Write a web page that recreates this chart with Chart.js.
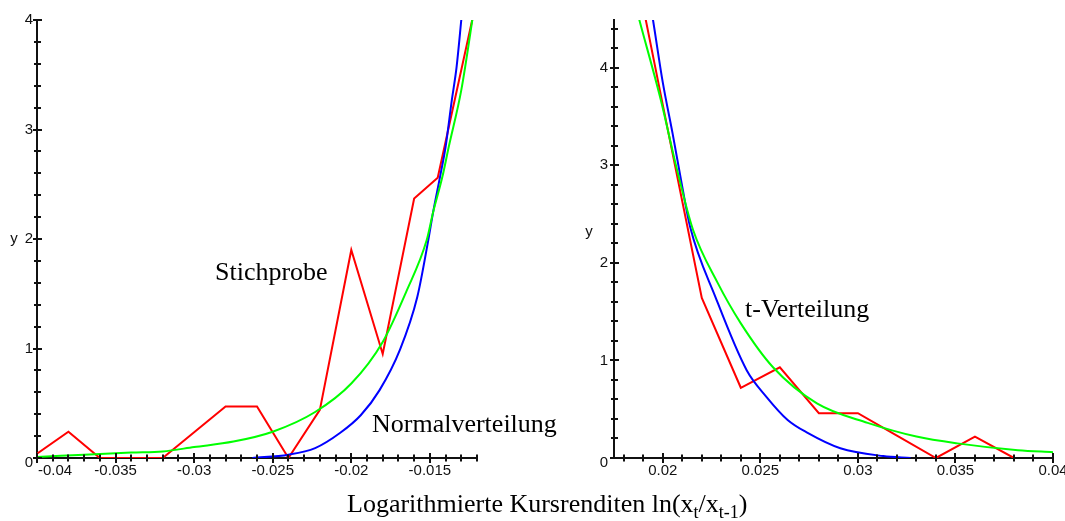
<!DOCTYPE html>
<html>
<head>
<meta charset="utf-8">
<script src="https://cdn.jsdelivr.net/npm/chart.js@4.4.0/dist/chart.umd.min.js"></script>
<style>
  body { margin: 0; background: #fff; }
  #wrap { position: relative; width: 1065px; height: 521px; overflow: hidden; }
  .layer { position: absolute; left: 0; top: 0; width: 1065px; height: 521px; }
  .note {
    position: absolute; white-space: nowrap; color: #000;
    font-family: "Liberation Serif", "Times New Roman", serif;
    font-size: 26px; line-height: 26px;
  }
  .note sub { font-size: 18px; line-height: 0; vertical-align: -6px; }
</style>
</head>
<body>
<div id="wrap">
  <div class="layer"><canvas id="leftChart"></canvas></div>
  <div class="layer"><canvas id="rightChart"></canvas></div>
  <div class="note" style="left:215px;top:259px">Stichprobe</div>
  <div class="note" style="left:372px;top:411px">Normalverteilung</div>
  <div class="note" style="left:745px;top:296px">t-Verteilung</div>
  <div class="note" style="left:347px;top:491px">Logarithmierte Kursrenditen ln(x<sub>t</sub>/x<sub>t-1</sub>)</div>
</div>
<script>
// left tail (negative returns)
const leftSampleX = [-0.040, -0.038, -0.036, -0.034, -0.032, -0.030, -0.028, -0.026, -0.024, -0.022, -0.020, -0.018, -0.016, -0.0145, -0.012];
const leftSampleY = [0.04, 0.24, 0, 0, 0, 0.235, 0.47, 0.47, 0, 0.44, 1.90, 0.95, 2.37, 2.56, 4.2];

const leftNormalX = [-0.0263, -0.024, -0.0223, -0.0207, -0.0194, -0.0182, -0.0169, -0.0158, -0.0151, -0.0148, -0.01435, -0.0140, -0.0136, -0.0133, -0.0130, -0.0128];
const leftNormalY = [0.0, 0.03, 0.09, 0.23, 0.39, 0.62, 0.99, 1.47, 1.99, 2.24, 2.57, 2.84, 3.27, 3.57, 4.0, 4.3];

const leftTX = [-0.040, -0.037, -0.034, -0.032, -0.030, -0.0275, -0.025, -0.0223, -0.020, -0.018, -0.0165, -0.0152, -0.0148, -0.0142, -0.0138, -0.0130, -0.0123, -0.012];
const leftTY = [0.01, 0.03, 0.05, 0.06, 0.10, 0.15, 0.24, 0.42, 0.68, 1.06, 1.52, 1.99, 2.24, 2.57, 2.84, 3.36, 4.0, 4.3];

// right tail (positive returns)
const rightSampleX = [0.018, 0.020, 0.022, 0.024, 0.026, 0.028, 0.030, 0.032, 0.034, 0.036, 0.038];
const rightSampleY = [5.62, 3.62, 1.64, 0.72, 0.93, 0.46, 0.46, 0.23, 0, 0.22, 0];

const rightNormalX = [0.0190, 0.0195, 0.0200, 0.0205, 0.0210, 0.0214, 0.0227, 0.0243, 0.0253, 0.0264, 0.0274, 0.0291, 0.0313, 0.0327];
const rightNormalY = [5.1, 4.49, 3.85, 3.33, 2.78, 2.37, 1.65, 0.90, 0.63, 0.39, 0.26, 0.10, 0.02, 0];

const rightTX = [0.0180, 0.0188, 0.0199, 0.0207, 0.02155, 0.0228, 0.0240, 0.02565, 0.0279, 0.0305, 0.0330, 0.0351, 0.0382, 0.0400];
const rightTY = [5.1, 4.49, 3.67, 2.98, 2.34, 1.80, 1.38, 0.93, 0.56, 0.36, 0.22, 0.15, 0.08, 0.06];

// tick labels
const leftXLabels = ['-0.04', '-0.035', '-0.03', '-0.025', '-0.02', '-0.015'];
const rightXLabels = ['0.02', '0.025', '0.03', '0.035', '0.04'];
const leftYLabels = ['0', '1', '2', '3', '4'];
const rightYLabels = ['0', '1', '2', '3', '4'];

const pts = (xs, ys) => xs.map((x, i) => ({ x: x, y: ys[i] }));

function steps(from, to, step) {
  const out = [];
  const n = Math.round((to - from) / step);
  for (let k = 0; k <= n; k++) out.push(from + k * step);
  return out;
}

// maple style axis: ticks crossing the axis line, labels only on the majors
const axisTicks = {
  id: 'axisTicks',
  afterDraw(chart, args, o) {
    const { ctx, chartArea: a, scales: { x, y } } = chart;
    ctx.save();
    ctx.strokeStyle = '#111';
    ctx.lineWidth = 2;
    ctx.beginPath();
    o.xMinor.forEach(v => {
      const px = Math.round(x.getPixelForValue(v));
      ctx.moveTo(px, a.bottom - 3.5); ctx.lineTo(px, a.bottom + 3.5);
    });
    o.xLabels.forEach(t => {
      const px = Math.round(x.getPixelForValue(parseFloat(t)));
      ctx.moveTo(px, a.bottom - 5); ctx.lineTo(px, a.bottom + 5);
    });
    o.yMinor.forEach(v => {
      const py = Math.round(y.getPixelForValue(v));
      ctx.moveTo(a.left - 3, py); ctx.lineTo(a.left + 4, py);
    });
    o.yLabels.forEach(t => {
      const py = Math.round(y.getPixelForValue(parseFloat(t)));
      ctx.moveTo(a.left - 4, py); ctx.lineTo(a.left + 5, py);
    });
    ctx.stroke();

    ctx.fillStyle = '#111';
    ctx.font = '15px "Liberation Sans", Arial, sans-serif';
    ctx.textBaseline = 'middle';
    o.xLabels.forEach(t => {
      const px = x.getPixelForValue(parseFloat(t));
      if (Math.abs(px - a.left) < 2) {
        ctx.textAlign = 'left';
        ctx.fillText(t, px + 1, a.bottom + 13);
      } else {
        ctx.textAlign = 'center';
        ctx.fillText(t, px, a.bottom + 13);
      }
    });
    ctx.textAlign = 'right';
    o.yLabels.forEach(t => {
      const py = y.getPixelForValue(parseFloat(t));
      ctx.fillText(t, a.left - o.labelGap, t === '0' ? py + 5 : py);
    });
    ctx.textAlign = 'center';
    ctx.fillText('y', a.left - o.labelGap - 19, (a.top + a.bottom) / 2 + o.yTitleShift);
    ctx.restore();
  }
};

function makeChart(el, sets, xMin, xMax, yMax, pad, tickOpts) {
  return new Chart(document.getElementById(el), {
    type: 'line',
    data: {
      datasets: [
        { data: pts(sets[0][0], sets[0][1]), borderColor: '#00ff00', borderWidth: 2, pointRadius: 0, cubicInterpolationMode: 'monotone' },
        { data: pts(sets[1][0], sets[1][1]), borderColor: '#0000ff', borderWidth: 2, pointRadius: 0, cubicInterpolationMode: 'monotone' },
        { data: pts(sets[2][0], sets[2][1]), borderColor: '#ff0000', borderWidth: 2, pointRadius: 0, tension: 0 }
      ]
    },
    options: {
      responsive: true,
      maintainAspectRatio: false,
      animation: false,
      layout: { padding: pad },
      plugins: {
        legend: { display: false },
        tooltip: { enabled: false },
        axisTicks: tickOpts
      },
      scales: {
        x: {
          type: 'linear', min: xMin, max: xMax,
          ticks: { display: false },
          grid: { display: false, drawTicks: false },
          border: { display: true, color: '#111', width: 2 }
        },
        y: {
          min: 0, max: yMax,
          ticks: { display: false },
          grid: { display: false, drawTicks: false },
          border: { display: true, color: '#111', width: 2 }
        }
      }
    },
    plugins: [axisTicks]
  });
}

makeChart('leftChart',
  [[leftTX, leftTY], [leftNormalX, leftNormalY], [leftSampleX, leftSampleY]],
  -0.04, -0.012, 4,
  { left: 37, right: 588, top: 20, bottom: 63 },
  { xMinor: steps(-0.04, -0.012, 0.001), yMinor: steps(0, 4, 0.2), xLabels: leftXLabels, yLabels: leftYLabels, labelGap: 4, yTitleShift: 0 });

makeChart('rightChart',
  [[rightTX, rightTY], [rightNormalX, rightNormalY], [rightSampleX, rightSampleY]],
  0.0175, 0.04, 4.49,
  { left: 614, right: 12, top: 20, bottom: 63 },
  { xMinor: steps(0.018, 0.04, 0.001), yMinor: steps(0, 4.4, 0.2), xLabels: rightXLabels, yLabels: rightYLabels, labelGap: 6, yTitleShift: -7 });
</script>
</body>
</html>
